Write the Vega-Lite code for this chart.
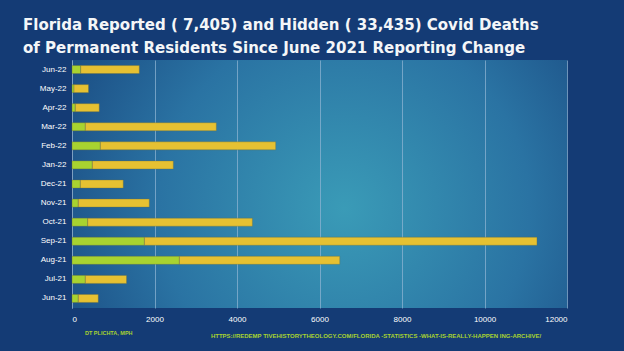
{
  "$schema": "https://vega.github.io/schema/vega-lite/v6.json",
  "width": 495,
  "height": 248,
  "autosize": {"type": "none"},
  "padding": {"left": 72, "top": 60, "right": 57, "bottom": 43},
  "background": "#143b75",
  "title": {
    "text": ["Florida Reported ( 7,405) and Hidden ( 33,435) Covid Deaths", "of Permanent Residents Since June 2021 Reporting Change"],
    "font": "DejaVu Sans Condensed, sans-serif",
    "fontSize": 16.7,
    "fontWeight": "bold",
    "color": "#f4f6f8",
    "anchor": "start",
    "frame": "group",
    "dx": -49,
    "offset": 3,
    "lineHeight": 23.5
  },
  "data": {
    "values": [
      {"month": "Jun-22", "type": "Reported", "ord": 1, "deaths": 211},
      {"month": "Jun-22", "type": "Hidden", "ord": 2, "deaths": 1420},
      {"month": "May-22", "type": "Reported", "ord": 1, "deaths": 49},
      {"month": "May-22", "type": "Hidden", "ord": 2, "deaths": 351},
      {"month": "Apr-22", "type": "Reported", "ord": 1, "deaths": 80},
      {"month": "Apr-22", "type": "Hidden", "ord": 2, "deaths": 580},
      {"month": "Mar-22", "type": "Reported", "ord": 1, "deaths": 323},
      {"month": "Mar-22", "type": "Hidden", "ord": 2, "deaths": 3176},
      {"month": "Feb-22", "type": "Reported", "ord": 1, "deaths": 687},
      {"month": "Feb-22", "type": "Hidden", "ord": 2, "deaths": 4251},
      {"month": "Jan-22", "type": "Reported", "ord": 1, "deaths": 493},
      {"month": "Jan-22", "type": "Hidden", "ord": 2, "deaths": 1963},
      {"month": "Dec-21", "type": "Reported", "ord": 1, "deaths": 202},
      {"month": "Dec-21", "type": "Hidden", "ord": 2, "deaths": 1040},
      {"month": "Nov-21", "type": "Reported", "ord": 1, "deaths": 153},
      {"month": "Nov-21", "type": "Hidden", "ord": 2, "deaths": 1720},
      {"month": "Oct-21", "type": "Reported", "ord": 1, "deaths": 381},
      {"month": "Oct-21", "type": "Hidden", "ord": 2, "deaths": 3992},
      {"month": "Sep-21", "type": "Reported", "ord": 1, "deaths": 1755},
      {"month": "Sep-21", "type": "Hidden", "ord": 2, "deaths": 9517},
      {"month": "Aug-21", "type": "Reported", "ord": 1, "deaths": 2604},
      {"month": "Aug-21", "type": "Hidden", "ord": 2, "deaths": 3887},
      {"month": "Jul-21", "type": "Reported", "ord": 1, "deaths": 323},
      {"month": "Jul-21", "type": "Hidden", "ord": 2, "deaths": 999},
      {"month": "Jun-21", "type": "Reported", "ord": 1, "deaths": 153},
      {"month": "Jun-21", "type": "Hidden", "ord": 2, "deaths": 483}
    ]
  },
  "mark": {"type": "bar", "stroke": "#6e6e3c", "strokeOpacity": 0.5, "strokeWidth": 0.7},
  "encoding": {
    "y": {
      "field": "month",
      "type": "nominal",
      "sort": null,
      "scale": {"paddingInner": 0.58, "paddingOuter": 0.29},
      "axis": {
        "title": "DT PLICHTA, MPH",
        "titleAngle": 0,
        "titleX": 12.5,
        "titleY": 272.7,
        "titleAlign": "left",
        "titleBaseline": "middle",
        "titleFont": "Liberation Sans",
        "titleFontSize": 5.5,
        "titleFontWeight": "bold",
        "titleColor": "#a8d330",
        "labelColor": "#ffffff",
        "labelFont": "Liberation Sans",
        "labelFontSize": 8,
        "labelPadding": 6,
        "ticks": false,
        "domain": true,
        "domainColor": "#7d9fc0",
        "domainWidth": 1,
        "grid": false
      }
    },
    "x": {
      "field": "deaths",
      "type": "quantitative",
      "stack": "zero",
      "scale": {"domain": [0, 12000], "nice": false},
      "axis": {
        "values": [0, 2000, 4000, 6000, 8000, 10000, 12000],
        "format": "d",
        "grid": true,
        "gridColor": "#8cb3d2",
        "gridOpacity": 0.75,
        "gridWidth": 1,
        "domain": false,
        "ticks": false,
        "labelPadding": 7,
        "labelColor": "#ffffff",
        "labelFont": "Liberation Sans",
        "labelFontSize": 8,
        "title": "HTTPS://REDEMP  TIVEHISTORYTHEOLOGY.COM/FLORIDA  -STATISTICS  -WHAT-IS-REALLY-HAPPEN ING-ARCHIVE/",
        "titleX": 303.5,
        "titleY": 27.6,
        "titleAlign": "center",
        "titleBaseline": "middle",
        "titleFont": "Liberation Sans",
        "titleFontSize": 6,
        "titleFontWeight": "bold",
        "titleColor": "#a8d330"
      }
    },
    "color": {
      "field": "type",
      "type": "nominal",
      "scale": {"domain": ["Reported", "Hidden"], "range": ["#a8d330", "#e6c132"]},
      "legend": null
    },
    "order": {"field": "ord", "type": "quantitative"}
  },
  "config": {
    "view": {
      "stroke": null,
      "fill": {
        "gradient": "radial",
        "x1": 0.55, "y1": 0.55, "x2": 0.55, "y2": 0.55,
        "r1": 0, "r2": 0.75,
        "stops": [
          {"offset": 0, "color": "#3a9bb7"},
          {"offset": 0.5, "color": "#2a73a3"},
          {"offset": 1, "color": "#143b75"}
        ]
      }
    }
  }
}
